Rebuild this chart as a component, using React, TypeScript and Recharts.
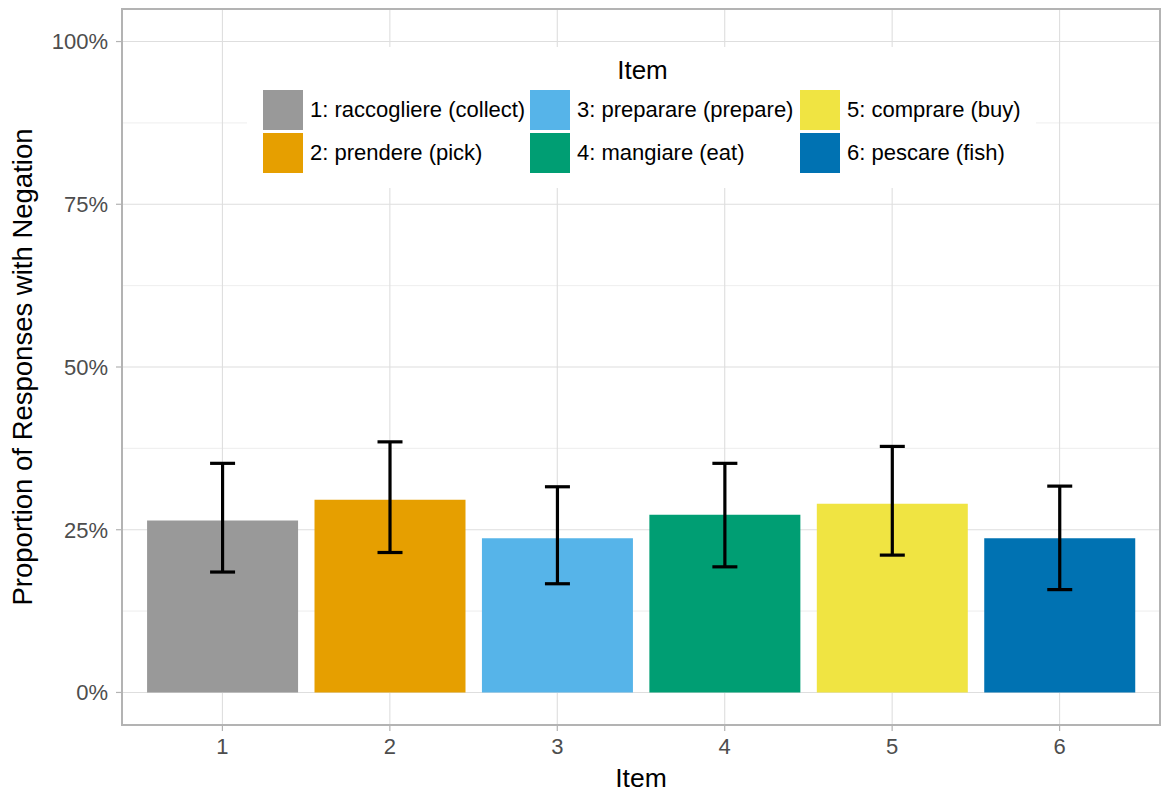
import { BarChart, Bar, XAxis, YAxis, CartesianGrid, Cell, ErrorBar, Legend } from "recharts";

const ITEMS = ["1", "2", "3", "4", "5", "6"];
const ITEM_LABELS = [
  "1: raccogliere (collect)",
  "2: prendere (pick)",
  "3: preparare (prepare)",
  "4: mangiare (eat)",
  "5: comprare (buy)",
  "6: pescare (fish)",
];
const COLORS = ["#999999", "#E69F00", "#56B4E9", "#009E73", "#F0E442", "#0072B2"];
const MEANS = [0.264, 0.296, 0.237, 0.273, 0.290, 0.237];
const UPPER = [0.352, 0.385, 0.316, 0.352, 0.378, 0.317];
const LOWER = [0.185, 0.215, 0.167, 0.193, 0.211, 0.158];
const Y_TICKS = [0, 0.25, 0.5, 0.75, 1];
const Y_MINOR = [0.125, 0.375, 0.625, 0.875];

const DATA = ITEMS.map((item, i) => ({
  item,
  prop: MEANS[i],
  err: [MEANS[i] - LOWER[i], UPPER[i] - MEANS[i]],
}));

const FONT = "'Liberation Sans', Arial, Helvetica, sans-serif";

// ggplot-style legend: title on top, 3 columns x 2 rows, filled by column
function ItemLegend() {
  const colWidths = [267, 270, 222];
  return (
    <div style={{ background: "#fff", padding: "8px 14px 15px 16px", fontFamily: FONT }}>
      <div style={{ textAlign: "center", fontSize: 26, lineHeight: "30px", color: "#000", marginBottom: 5 }}>Item</div>
      <div style={{ display: "flex" }}>
        {[0, 1, 2].map((c) => (
          <div key={c} style={{ width: colWidths[c], display: "flex", flexDirection: "column", gap: 3 }}>
            {[0, 1].map((r) => {
              const i = c * 2 + r;
              return (
                <div key={r} style={{ display: "flex", alignItems: "center", height: 40 }}>
                  <span style={{ width: 40, height: 40, background: COLORS[i], display: "block", flex: "none" }} />
                  <span style={{ fontSize: 22, color: "#000", marginLeft: 7, whiteSpace: "nowrap" }}>{ITEM_LABELS[i]}</span>
                </div>
              );
            })}
          </div>
        ))}
      </div>
    </div>
  );
}

export default function App() {
  return (
    <div style={{ position: "absolute", left: 0, top: 0, width: 1162, height: 792, background: "#fff" }}>
      <BarChart
        width={1162}
        height={792}
        data={DATA}
        margin={{ top: 9, right: 2, left: 0, bottom: 0 }}
        barCategoryGap="5%"
        style={{ fontFamily: FONT }}
      >
        <CartesianGrid vertical={false} horizontalValues={Y_MINOR} stroke="#e3e3e3" strokeWidth={0.6} />
        <CartesianGrid stroke="#dedede" strokeWidth={1.1} />
        <XAxis
          dataKey="item"
          height={67}
          padding={{ left: 16.7, right: 16.7 }}
          axisLine={false}
          tickLine={{ stroke: "#b3b3b3", strokeWidth: 1.2 }}
          tickSize={6}
          tickMargin={7}
          tick={{ fill: "#4d4d4d", fontSize: 22 }}
          label={{ value: "Item", position: "insideBottom", offset: 5, style: { fill: "#000", fontSize: 26.5 } }}
        />
        <YAxis
          width={122}
          domain={[-0.05, 1.05]}
          ticks={Y_TICKS}
          axisLine={false}
          tickLine={{ stroke: "#b3b3b3", strokeWidth: 1.2 }}
          tickSize={6}
          tickMargin={8}
          tick={{ fill: "#4d4d4d", fontSize: 22 }}
          tickFormatter={(v) => `${Math.round(v * 100)}%`}
          label={{
            value: "Proportion of Responses with Negation",
            angle: -90,
            position: "insideLeft",
            offset: 22,
            style: { textAnchor: "middle", fill: "#000", fontSize: 27.5 },
          }}
        />
        <Legend
          layout="horizontal"
          verticalAlign="middle"
          align="center"
          content={() => <ItemLegend />}
          wrapperStyle={{ top: 47, left: 247, width: "auto", height: "auto" }}
        />
        <Bar dataKey="prop" isAnimationActive={false}>
          {DATA.map((d, i) => (
            <Cell key={d.item} fill={COLORS[i]} />
          ))}
          <ErrorBar dataKey="err" width={12.5} stroke="#000" strokeWidth={3.2} isAnimationActive={false} />
        </Bar>
      </BarChart>
      {/* panel border */}
      <div
        style={{
          position: "absolute", left: 121, top: 8, width: 1040, height: 718,
          border: "2px solid #b3b3b3", boxSizing: "border-box", pointerEvents: "none",
        }}
      />
    </div>
  );
}
